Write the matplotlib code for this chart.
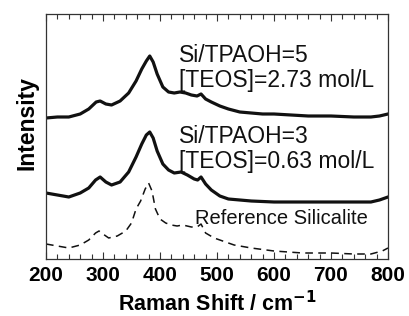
import matplotlib
matplotlib.use("Agg")
import matplotlib.pyplot as plt
from matplotlib.ticker import MultipleLocator

plt.rcParams['font.family'] = ['Liberation Sans', 'DejaVu Sans']

# Raman shift (cm^-1) and offset intensities (arbitrary units)
shift_5 = [200, 220, 240, 260, 275, 288, 295, 305, 315, 330, 345, 358, 368, 376, 382, 388, 395, 405, 415, 425, 435, 445, 455, 465, 472, 480, 490, 505, 520, 540, 560, 580, 600, 630, 660, 700, 740, 770, 785, 800]
int_5 = [141, 142, 142, 145, 150, 157, 158, 155, 154, 158, 166, 178, 190, 198, 203, 197, 185, 172, 167, 166, 167, 166, 164, 163, 165, 160, 157, 153, 150, 147, 146, 145, 145, 144, 143, 143, 142, 142, 143, 145]

shift_3 = [200, 220, 240, 260, 275, 287, 295, 305, 315, 330, 345, 358, 368, 376, 382, 388, 395, 405, 415, 425, 437, 448, 460, 466, 472, 480, 490, 505, 520, 540, 560, 600, 650, 700, 740, 770, 785, 800]
int_3 = [66, 64, 62, 66, 71, 79, 82, 77, 74, 77, 87, 102, 115, 124, 127, 121, 108, 95, 89, 86, 87, 84, 80, 79, 82, 75, 69, 63, 60, 59, 58, 57, 57, 57, 57, 57, 59, 62]

shift_ref = [200, 220, 240, 260, 275, 287, 293, 300, 310, 325, 340, 350, 358, 366, 374, 380, 386, 392, 400, 410, 420, 430, 440, 455, 465, 472, 480, 495, 510, 530, 560, 600, 650, 700, 740, 770, 790, 800]
int_ref = [15, 13, 11, 14, 19, 26, 28, 25, 21, 23, 28, 36, 50, 58, 70, 76, 68, 50, 40, 36, 34, 33, 34, 32, 32, 35, 26, 21, 18, 14, 11, 8, 6, 6, 5, 5, 8, 11]

labels = ["Si/TPAOH=5\n[TEOS]=2.73 mol/L", "Si/TPAOH=3\n[TEOS]=0.63 mol/L", "Reference Silicalite"]

fig = plt.figure(figsize=(4.09, 3.16), dpi=100)
ax = fig.add_axes([46/409, 57/316, 342/409, 245/316])

ax.plot(shift_5, int_5, color='#111111', lw=2.3, solid_joinstyle='round')
ax.plot(shift_3, int_3, color='#111111', lw=2.3, solid_joinstyle='round')
ax.plot(shift_ref, int_ref, color='#111111', lw=1.1, dashes=(5, 3.5))

ax.set_xlim(200, 800)
ax.set_ylim(0, 245)
ax.set_yticks([])
ax.xaxis.set_major_locator(MultipleLocator(100))
ax.xaxis.set_minor_locator(MultipleLocator(20))
ax.tick_params(axis='x', which='both', direction='in', top=True, bottom=True,
               color='#333333')
ax.tick_params(axis='x', which='major', length=5, width=0.8, labelsize=15, pad=5)
ax.tick_params(axis='x', which='minor', length=3.5, width=0.8)
for lab in ax.get_xticklabels():
    lab.set_fontweight('bold')
for s in ax.spines.values():
    s.set_color('#333333')
    s.set_linewidth(0.9)

ax.text(434, 191, labels[0], fontsize=16.5, ha='left', va='center', linespacing=1.1, color='#111111')
ax.text(434, 110, labels[1], fontsize=16.5, ha='left', va='center', linespacing=1.1, color='#111111')
ax.text(461, 41, labels[2], fontsize=14.5, ha='left', va='center', color='#111111')

ax.set_xlabel("Raman Shift / cm$^{\\mathbf{-1}}$", fontsize=15.5, fontweight='bold', labelpad=4)
ax.set_ylabel("Intensity", fontsize=16.5, fontweight='bold')
ax.yaxis.set_label_coords(-0.022, 0.555)

fig.savefig("out.png", dpi=100)
